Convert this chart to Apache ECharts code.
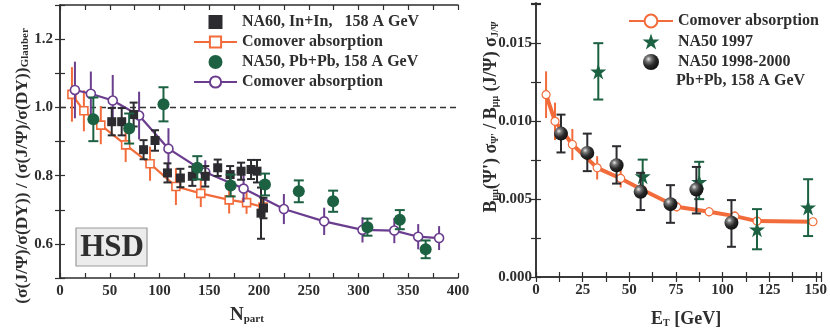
<!DOCTYPE html>
<html><head><meta charset="utf-8">
<script src="https://cdn.jsdelivr.net/npm/echarts@6/dist/echarts.min.js"></script>
<style>html,body{margin:0;padding:0;background:#fff}#c{width:830px;height:328px}</style>
</head><body><div id="c"></div>
<script>
// ---------- Left panel data (N_part vs ratio) ----------
const na60N   = [52, 62, 74, 84, 95.5, 108, 121, 133, 146, 158.5, 171, 182, 192, 198, 202, 204.5];
const na60R   = [0.958, 0.958, 0.979, 0.876, 0.903, 0.808, 0.793, 0.798, 0.798, 0.823, 0.803, 0.813, 0.818, 0.813, 0.69, 0.705];
const na60E   = [0.04, 0.04, 0.035, 0.028, 0.03, 0.028, 0.027, 0.028, 0.03, 0.024, 0.025, 0.025, 0.028, 0.033, 0.075, 0.03];

const comInN  = [12, 24, 41, 66, 90.5, 116.5, 141.5, 170, 187.5, 204];
const comInR  = [1.038, 0.99, 0.948, 0.89, 0.835, 0.768, 0.748, 0.729, 0.721, 0.708];
const comInE  = [0.08, 0.06, 0.056, 0.05, 0.05, 0.054, 0.04, 0.04, 0.033, 0.03];

const na50N   = [33.5, 69.5, 104, 138, 171.5, 206, 240, 274.5, 309, 341.5, 367.5];
const na50R   = [0.965, 0.938, 1.009, 0.823, 0.771, 0.774, 0.754, 0.725, 0.649, 0.671, 0.584];
const na50E   = [0.064, 0.044, 0.05, 0.034, 0.032, 0.032, 0.032, 0.031, 0.025, 0.028, 0.026];

const comPbN  = [15, 31, 53, 79.5, 109, 146, 184.5, 225, 265.5, 304, 336, 360, 381];
const comPbR  = [1.051, 1.04, 1.02, 0.976, 0.879, 0.81, 0.762, 0.702, 0.666, 0.641, 0.639, 0.621, 0.617];
const comPbE  = [0.083, 0.065, 0.075, 0.07, 0.06, 0.035, 0.04, 0.044, 0.04, 0.037, 0.037, 0.037, 0.035];

// ---------- Right panel data (E_T vs psi'/psi) ----------
const comRE   = [5.4, 10.2, 19.5, 32.8, 45.4, 57, 75.4, 92.8, 106.6, 118.5, 148.5];
const comRV   = [0.01171, 0.0100, 0.00851, 0.00701, 0.00633, 0.0056, 0.00451, 0.00419, 0.00391, 0.00359, 0.00355];
const comRErr = [0.0015, 0.0012, 0.001, 0.00075, 0.00058, 0.0004, 0.0003, 0.0003, 0.0003, 0.0002, 0.0002];

const na50_97E  = [33.4, 57.2, 87.5, 118.5, 145.9];
const na50_97V  = [0.0132, 0.00647, 0.00611, 0.00306, 0.00447];
const na50_97Lo = [0.0114, 0.0054, 0.0050, 0.00178, 0.00263];
const na50_97Hi = [0.01502, 0.00754, 0.0074, 0.00436, 0.00628];

const na50_98E  = [13.4, 27.5, 43.2, 56.1, 72.1, 86, 104.8];
const na50_98V  = [0.00921, 0.00797, 0.00718, 0.00547, 0.00468, 0.00562, 0.00348];
const na50_98Lo = [0.0080, 0.0068, 0.0060, 0.0043, 0.00348, 0.00408, 0.00194];
const na50_98Hi = [0.01043, 0.00921, 0.0084, 0.00669, 0.0059, 0.00707, 0.00494];

// ---------- styling ----------
const FONT = 'Liberation Serif';
const TXT = '#2e2e2e';
const ORANGE = '#f26b3a', PURPLE = '#6a3d8e', GREEN = '#1b6142', BLACK = '#2b2b30';
const STAR = 'path://M50,0 L61.8,36.2 L100,36.2 L69.1,58.8 L80.9,95.1 L50,72.7 L19.1,95.1 L30.9,58.8 L0,36.2 L38.2,36.2 Z';
const SQUARE = 'path://M0,0 L10,0 L10,10 L0,10 Z';

const pts = (xs, ys) => xs.map((x, i) => [x, ys[i]]);
const symErr = (xs, ys, es) => xs.map((x, i) => [x, ys[i] - es[i], ys[i] + es[i]]);
const asymErr = (xs, lo, hi) => xs.map((x, i) => [x, lo[i], hi[i]]);

function errRender(cap, lw) {
  return function (params, api) {
    const x = api.value(0), lo = api.value(1), hi = api.value(2);
    const a = api.coord([x, hi]), b = api.coord([x, lo]);
    const st = { stroke: api.visual('color'), lineWidth: lw };
    const ch = [{ type: 'line', shape: { x1: a[0], y1: a[1], x2: b[0], y2: b[1] }, style: st }];
    if (cap > 0) {
      ch.push({ type: 'line', shape: { x1: a[0] - cap, y1: a[1], x2: a[0] + cap, y2: a[1] }, style: st });
      ch.push({ type: 'line', shape: { x1: b[0] - cap, y1: b[1], x2: b[0] + cap, y2: b[1] }, style: st });
    }
    return { type: 'group', children: ch };
  };
}
function errSeries(data, color, cap, lw, xi, yi, z) {
  return { type: 'custom', xAxisIndex: xi, yAxisIndex: yi, data: data, z: z, silent: true,
    itemStyle: { color: color, opacity: 1 }, encode: { x: 0, y: [1, 2] }, renderItem: errRender(cap, lw) };
}

const lblStyle = { fontFamily: FONT, fontWeight: 'bold', fontSize: 15, color: TXT };
const axLine = { show: true, lineStyle: { color: TXT, width: 1.5 } };
const tick = { show: true, inside: true, length: 5, lineStyle: { color: TXT, width: 1.2 } };

function axis(base, labels) {
  return Object.assign({
    type: 'value', axisLine: axLine, axisTick: tick, splitLine: { show: false },
    axisLabel: labels ? Object.assign({ interval: 0 }, lblStyle, labels) : { show: false }
  }, base);
}

const sphere = { type: 'radial', x: 0.35, y: 0.32, r: 0.7,
  colorStops: [{ offset: 0, color: '#e8e8e8' }, { offset: 0.25, color: '#777' }, { offset: 0.6, color: '#2a2a2a' }, { offset: 1, color: '#111' }] };

const nameMap = { na60: 'NA60, In+In,   158 A GeV', comIn: 'Comover absorption', na50: 'NA50, Pb+Pb, 158 A GeV',
  comPb: 'Comover absorption', comR: 'Comover absorption', s97: 'NA50 1997', s98: 'NA50 1998-2000' };

const legText = { fontFamily: FONT, fontWeight: 'bold', fontSize: 16, color: TXT, lineHeight: 16 };

const chart = echarts.init(document.getElementById('c'), null, { renderer: 'canvas' });
chart.setOption({
  animation: false,
  backgroundColor: '#fff',
  grid: [
    { left: 60, right: 372, top: 5, bottom: 50 },
    { left: 536, right: 8, top: 3, bottom: 51 }
  ],
  xAxis: [
    axis({ gridIndex: 0, position: 'bottom', min: 0, max: 400, interval: 25 },
      { margin: 6, formatter: v => (v % 50 === 0 ? String(v) : '') }),
    axis({ gridIndex: 0, position: 'top', min: 0, max: 400, interval: 25 }, null),
    axis({ gridIndex: 1, position: 'bottom', min: 0, max: 153, interval: 12.5 },
      { margin: 6, formatter: v => (v % 25 === 0 ? String(v) : '') }),
    axis({ gridIndex: 1, position: 'top', min: 0, max: 153, interval: 12.5 }, null)
  ],
  yAxis: [
    axis({ gridIndex: 0, position: 'left', min: 0.5, max: 1.3, interval: 0.1 },
      { margin: 7, formatter: v => { const k = Math.round(v * 10); return (k % 2 === 0 && k >= 6 && k <= 12) ? v.toFixed(1) : ''; } }),
    axis({ gridIndex: 0, position: 'right', min: 0.5, max: 1.3, interval: 0.1 }, null),
    axis({ gridIndex: 1, position: 'left', min: 0, max: 0.0176, interval: 0.0025 },
      { margin: 4, formatter: v => { const k = v / 0.005; return (Math.abs(k - Math.round(k)) < 1e-6 && v <= 0.0151) ? v.toFixed(3) : ''; } }),
    axis({ gridIndex: 1, position: 'right', min: 0, max: 0.0176, interval: 0.0025 }, null)
  ],
  legend: [
    { orient: 'vertical', left: 193, top: 14, itemWidth: 43, itemHeight: 14, itemGap: 4, padding: 0,
      textStyle: legText, formatter: n => nameMap[n], selectedMode: false,
      data: [{ name: 'na60', icon: SQUARE, itemStyle: { color: BLACK } }, 'comIn', { name: 'na50', icon: 'circle' }, 'comPb'] },
    { orient: 'vertical', left: 628, top: 13, itemWidth: 44, itemHeight: 16, itemGap: 4.5, padding: 0,
      textStyle: legText, formatter: n => nameMap[n], selectedMode: false,
      data: ['comR', 's97', 's98'] }
  ],
  graphic: [
    { type: 'rect', shape: { x: 76, y: 228, width: 71, height: 38 }, style: { fill: '#ececec', stroke: '#9a9a9a', lineWidth: 1.2 }, z: 100 },
    { type: 'text', x: 112, y: 248, z: 101, style: { text: 'HSD', fontFamily: FONT, fontWeight: 'bold', fontSize: 31, fill: TXT, align: 'center', verticalAlign: 'middle' } },
    { type: 'text', x: 20, y: 166, rotation: Math.PI / 2, z: 101,
      style: { text: '{m|(σ(J/Ψ)/σ(DY)) / (σ(J/Ψ)/σ(DY))}{s|Glauber}', align: 'center', verticalAlign: 'middle',
        rich: { m: { fontFamily: FONT, fontWeight: 'bold', fontSize: 17.5, fill: TXT, lineHeight: 22, verticalAlign: 'bottom' },
                s: { fontFamily: FONT, fontWeight: 'bold', fontSize: 11, fill: TXT, lineHeight: 22, verticalAlign: 'bottom' } } } },
    { type: 'text', x: 230, y: 297, z: 101,
      style: { text: '{m|N}{s|part}', align: 'left', verticalAlign: 'top',
        rich: { m: { fontFamily: FONT, fontWeight: 'bold', fontSize: 19, fill: TXT, lineHeight: 22, verticalAlign: 'bottom' },
                s: { fontFamily: FONT, fontWeight: 'bold', fontSize: 11, fill: TXT, lineHeight: 28, verticalAlign: 'bottom' } } } },
    { type: 'text', x: 651, y: 302, z: 101,
      style: { text: '{m|E}{s|T}{m| [GeV]}', align: 'left', verticalAlign: 'top',
        rich: { m: { fontFamily: FONT, fontWeight: 'bold', fontSize: 18, fill: TXT, lineHeight: 22, verticalAlign: 'bottom' },
                s: { fontFamily: FONT, fontWeight: 'bold', fontSize: 10, fill: TXT, lineHeight: 26, verticalAlign: 'bottom' } } } },
    { type: 'text', x: 489, y: 117, rotation: Math.PI / 2, z: 101,
      style: { text: '{m|B}{s|μμ}{m|(Ψ\') σ}{s|Ψ\'}{m| / B}{s|μμ}{m| (J/Ψ) σ}{s|J/Ψ}', align: 'center', verticalAlign: 'middle',
        rich: { m: { fontFamily: FONT, fontWeight: 'bold', fontSize: 18, fill: TXT, lineHeight: 22, verticalAlign: 'bottom' },
                s: { fontFamily: FONT, fontWeight: 'bold', fontSize: 10, fill: TXT, lineHeight: 22, verticalAlign: 'bottom' } } } },
    { type: 'text', x: 676, y: 81, z: 101,
      style: { text: 'Pb+Pb, 158 A GeV', fontFamily: FONT, fontWeight: 'bold', fontSize: 16, fill: TXT, align: 'left', verticalAlign: 'middle' } }
  ],
  series: [
    // ---- left panel ----
    errSeries(symErr(comInN, comInR, comInE), ORANGE, 0, 2, 0, 0, 2),
    { name: 'comIn', type: 'line', xAxisIndex: 0, yAxisIndex: 0, data: pts(comInN, comInR), z: 3,
      symbol: 'rect', symbolSize: 8, lineStyle: { color: ORANGE, width: 2.2 },
      itemStyle: { color: '#fff', borderColor: ORANGE, borderWidth: 1.6 } },
    errSeries(symErr(comPbN, comPbR, comPbE), PURPLE, 0, 2, 0, 0, 4),
    { name: 'comPb', type: 'line', xAxisIndex: 0, yAxisIndex: 0, data: pts(comPbN, comPbR), z: 5,
      symbol: 'circle', symbolSize: 9, lineStyle: { color: PURPLE, width: 2.2 },
      itemStyle: { color: '#fff', borderColor: PURPLE, borderWidth: 1.6 } },
    errSeries(symErr(na60N, na60R, na60E), BLACK, 4, 2, 0, 0, 6),
    { name: 'na60', type: 'scatter', xAxisIndex: 0, yAxisIndex: 0, data: pts(na60N, na60R), z: 7,
      symbol: 'rect', symbolSize: 9, itemStyle: { color: BLACK, opacity: 1 },
      markLine: { silent: true, symbol: 'none', label: { show: false }, z: 1,
        lineStyle: { color: '#333', type: [6, 4], width: 1.3 }, data: [{ yAxis: 1 }] } },
    errSeries(symErr(na50N, na50R, na50E), GREEN, 5, 2, 0, 0, 8),
    { name: 'na50', type: 'scatter', xAxisIndex: 0, yAxisIndex: 0, data: pts(na50N, na50R), z: 9,
      symbol: 'circle', symbolSize: 12, itemStyle: { color: GREEN, opacity: 1 } },
    // ---- right panel ----
    errSeries(symErr(comRE, comRV, comRErr), ORANGE, 0, 2, 2, 2, 2),
    { name: 'comR', type: 'line', xAxisIndex: 2, yAxisIndex: 2, data: pts(comRE, comRV), z: 3,
      symbol: 'circle', symbolSize: 8, lineStyle: { color: ORANGE, width: 4 },
      itemStyle: { color: '#fff', borderColor: ORANGE, borderWidth: 1.2 } },
    errSeries(asymErr(na50_97E, na50_97Lo, na50_97Hi), GREEN, 5, 2, 2, 2, 4),
    { name: 's97', type: 'scatter', xAxisIndex: 2, yAxisIndex: 2, data: pts(na50_97E, na50_97V), z: 5,
      symbol: STAR, symbolSize: 16, itemStyle: { color: GREEN, opacity: 1 } },
    errSeries(asymErr(na50_98E, na50_98Lo, na50_98Hi), BLACK, 4.5, 2, 2, 2, 6),
    { name: 's98', type: 'scatter', xAxisIndex: 2, yAxisIndex: 2, data: pts(na50_98E, na50_98V), z: 7,
      symbol: 'circle', symbolSize: 14, itemStyle: { color: sphere, opacity: 1 } }
  ]
});
</script></body></html>
